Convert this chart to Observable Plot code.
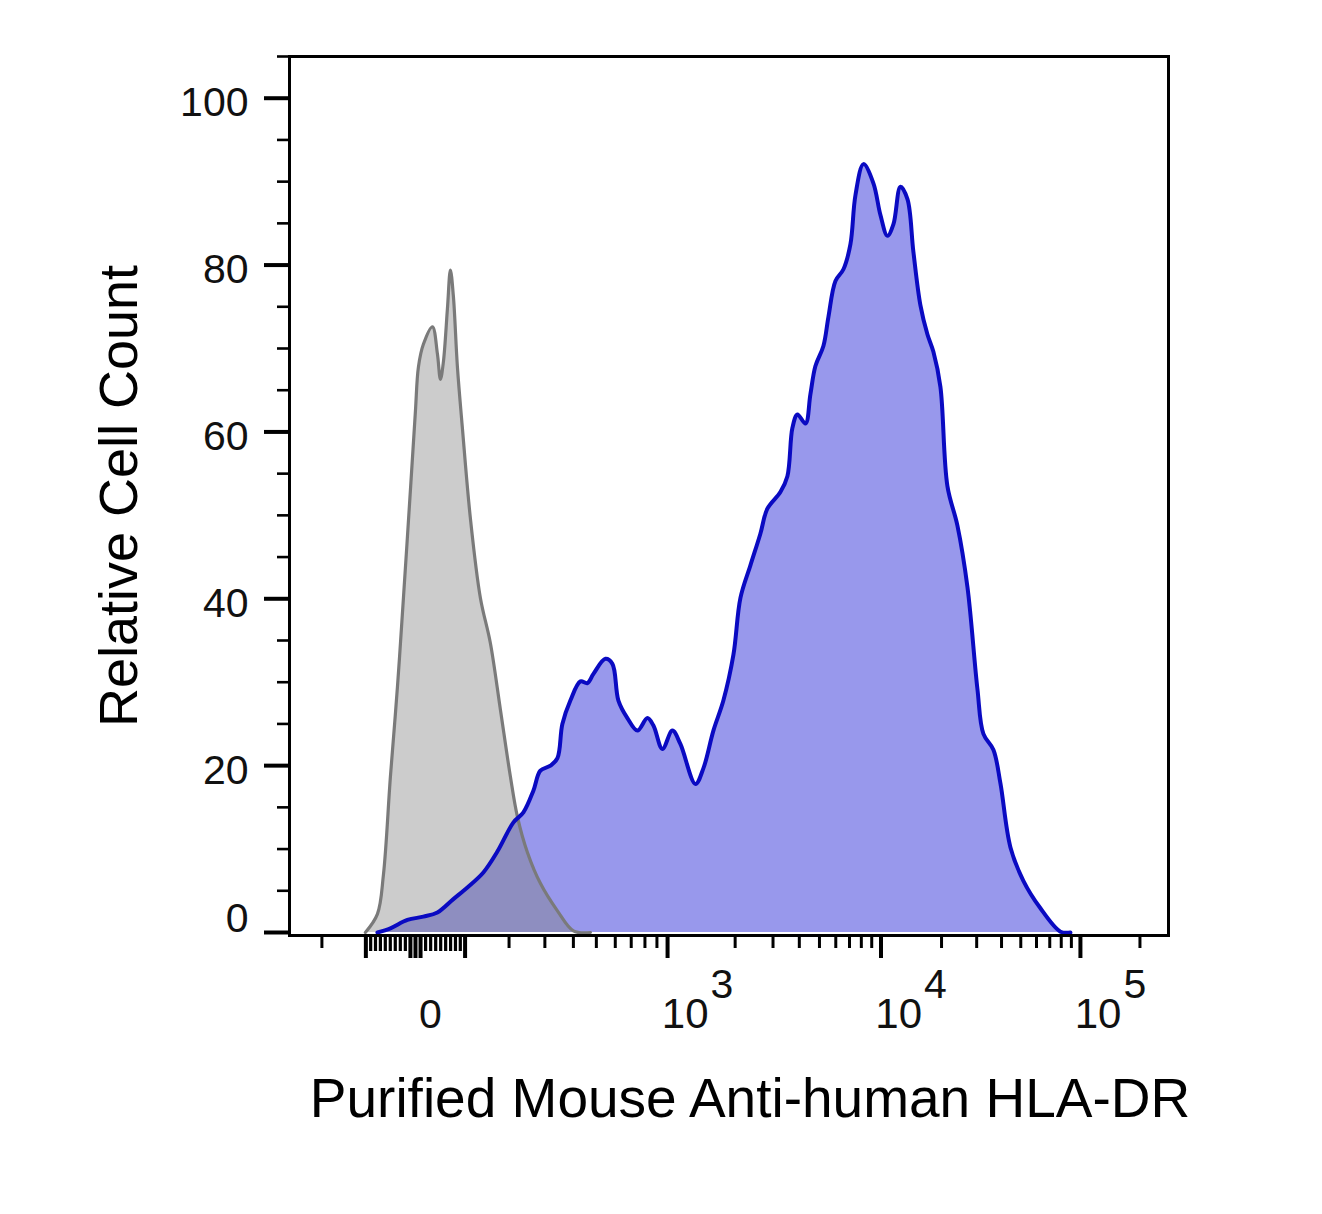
<!DOCTYPE html>
<html>
<head>
<meta charset="utf-8">
<script src="https://cdn.jsdelivr.net/npm/d3@7"></script>
<script src="https://cdn.jsdelivr.net/npm/@observablehq/plot@0.6"></script>
<style>
  html, body { margin: 0; padding: 0; background: #ffffff; }
</style>
</head>
<body>
<div id="chart"></div>
<script>
// ---- Data (x in logicle display channels, 200 channels per decade; y = relative cell count) ----
const blueChannel = [
  103.4, 116.6, 133.8, 150.0, 164.2, 180.4, 194.6, 210.8, 225.0, 241.3,
  251.4, 261.5, 268.6, 278.8, 285.9, 290.9, 299.0, 309.2, 316.3, 322.4,
  334.5, 341.6, 347.7, 356.8, 367.0, 377.1, 383.2, 392.3, 402.4, 410.5,
  425.8, 433.9, 444.0, 454.1, 464.3, 471.4, 481.5, 491.6, 498.7, 511.9,
  519.0, 524.1, 529.2, 537.3, 542.3, 547.4, 555.5, 560.6, 567.7, 575.8,
  582.9, 588.0, 596.1, 606.2, 613.3, 620.4, 626.5, 633.6, 640.7, 646.7,
  653.8, 660.9, 667.0, 674.1, 681.2, 691.3, 701.5, 711.6, 717.7, 727.8,
  734.9, 745.1, 758.2, 775.5, 795.8, 805.9
];
const blueCount = [
  0, 0.5, 1.5, 1.9, 2.4, 4.0, 5.4, 7.2, 9.7, 13.2,
  14.4, 17.0, 19.4, 20.0, 20.9, 25.0, 27.8, 30.1, 29.9, 31.0,
  32.8, 32.2, 27.8, 25.7, 24.2, 25.7, 24.8, 22.0, 24.2, 22.6,
  17.8, 19.7, 24.2, 27.8, 33.3, 40.1, 44.0, 47.8, 50.8, 52.8,
  54.7, 60.5, 62.1, 61.0, 64.5, 67.9, 70.3, 73.8, 78.1, 79.5,
  82.5, 88.4, 92.1, 89.8, 86.0, 83.5, 84.9, 89.4, 87.9, 81.6,
  75.2, 71.7, 69.6, 65.4, 53.5, 48.8, 41.4, 29.2, 23.8, 21.9,
  17.9, 10.2, 6.2, 2.9, 0.1, 0
];
const grayChannel = [
  91.2, 103.4, 109.5, 116.6, 123.7, 129.8, 136.8, 141.9, 145.0, 150.0,
  159.2, 164.2, 167.3, 170.3, 174.4, 177.4, 180.4, 184.5, 189.6, 197.7,
  207.8, 217.9, 228.1, 238.2, 245.3, 255.5, 268.6, 285.9, 302.1, 319.3
];
const grayCount = [
  0, 2.2, 6.9, 18.7, 29.4, 40.1, 52.9, 62.4, 67.8, 70.5,
  72.6, 69.4, 66.3, 68.4, 74.8, 79.4, 76.3, 67.8, 60.4, 49.6,
  40.1, 34.7, 26.7, 18.7, 13.9, 9.6, 5.9, 2.6, 0.2, 0
];

// ---- Axis ticks (fluorescence values) ----
const xMajorTicks = [-100, -10, 0, 10, 100, 1000, 10000, 100000];
const xMidTicks = [-90, -80, -70, -60, -50, -40, -30, -20, 20, 30, 40, 50, 60, 70, 80, 90];
const xMinorTicks = [
  -300, -200,
  200, 300, 400, 500, 600, 700, 800, 900,
  2000, 3000, 4000, 5000, 6000, 7000, 8000, 9000,
  20000, 30000, 40000, 50000, 60000, 70000, 80000, 90000,
  200000
];
const xLabelValues = [1000, 10000, 100000];
const xLabelBase = ["10", "10", "10"];
const xLabelExp = ["3", "4", "5"];
const xZeroLabel = "0";
const yMajorTicks = [0, 20, 40, 60, 80, 100];
const yMinorTicks = [5, 10, 15, 25, 30, 35, 45, 50, 55, 65, 70, 75, 85, 90, 95, 105];
const xTitle = "Purified Mouse Anti-human HLA-DR";
const yTitle = "Relative Cell Count";

// ---- Logicle (biexponential) display transform ----
const T = 262144, M = 4.5, W = 0.71, CH_PER_DECADE = 200;
function solveP(w) {
  let lo = 1.000001, hi = 100;
  for (let i = 0; i < 200; i++) {
    const mid = (lo + hi) / 2;
    const f = 2 * mid * Math.log10(mid) / (mid + 1);
    if (f < w) lo = mid; else hi = mid;
  }
  return (lo + hi) / 2;
}
const P = solveP(W);
const PRE = T * Math.pow(10, -(M - W));
function logicleInverse(d) {
  const u = d - W, s = u >= 0 ? 1 : -1, a = Math.abs(u);
  return s * PRE * (Math.pow(10, a) - P * P * Math.pow(10, -a / P) + P * P - 1);
}
function toChannel(v) {
  let lo = -3, hi = M + 3;
  for (let i = 0; i < 200; i++) {
    const mid = (lo + hi) / 2;
    if (logicleInverse(mid) < v) lo = mid; else hi = mid;
  }
  return CH_PER_DECADE * (lo + hi) / 2;
}

const blue = blueChannel.map((c, i) => ({c, n: blueCount[i]}));
const gray = grayChannel.map((c, i) => ({c, n: grayCount[i]}));
const xDomain = [14.3, 905.3];
const inX = v => { const c = toChannel(v); return c >= xDomain[0] && c <= xDomain[1]; };

const font = "'Liberation Sans', Arial, Helvetica, sans-serif";
const curve = "catmull-rom";

const chart = Plot.plot({
  width: 1322,
  height: 1214,
  marginLeft: 289,
  marginRight: 154,
  marginTop: 56,
  marginBottom: 279,
  style: {fontFamily: font, background: "#ffffff", color: "#000000"},
  x: {type: "linear", domain: xDomain},
  y: {domain: [-0.36, 105]},
  marks: [
    Plot.areaY(blue, {x: "c", y: "n", fill: "#9898ec", curve}),
    Plot.areaY(gray, {x: "c", y: "n", fill: "#808080", fillOpacity: 0.4, curve}),
    Plot.lineY(gray, {x: "c", y: "n", stroke: "#7a7a7a", strokeWidth: 3.2, curve}),
    Plot.lineY(blue, {x: "c", y: "n", stroke: "#0a0ac2", strokeWidth: 4, curve}),
    Plot.frame({stroke: "#000000", strokeWidth: 3}),
    // x ticks
    Plot.axisX(xMinorTicks.filter(inX).map(toChannel), {anchor: "bottom", tickSize: 13, strokeWidth: 3, tickFormat: () => "", label: null}),
    Plot.axisX(xMidTicks.filter(inX).map(toChannel), {anchor: "bottom", tickSize: 16, strokeWidth: 3.2, tickFormat: () => "", label: null}),
    Plot.axisX(xMajorTicks.filter(inX).map(toChannel), {anchor: "bottom", tickSize: 23, strokeWidth: 4, tickFormat: () => "", label: null}),
    // y ticks
    Plot.axisY(yMinorTicks, {anchor: "left", tickSize: 12, strokeWidth: 2.6, tickFormat: () => "", label: null}),
    Plot.axisY(yMajorTicks, {anchor: "left", tickSize: 25, strokeWidth: 4, tickFormat: () => "", label: null}),
    // y tick labels
    Plot.text(yMajorTicks.filter(v => v > 0), {y: d => d, text: d => String(d), frameAnchor: "left", textAnchor: "end", dx: -41, dy: 5, fontSize: 41, fill: "#111"}),
    Plot.text([0], {y: d => d, text: d => String(d), frameAnchor: "left", textAnchor: "end", dx: -41, dy: -14, fontSize: 41, fill: "#111"}),
    // x tick labels
    Plot.text([0], {x: d => toChannel(d), text: () => xZeroLabel, frameAnchor: "bottom", lineAnchor: "bottom", textAnchor: "middle", dx: 15, dy: 92, fontSize: 41, fill: "#111"}),
    Plot.text(xLabelValues, {x: d => toChannel(d), text: (d, i) => xLabelBase[i], frameAnchor: "bottom", lineAnchor: "bottom", textAnchor: "end", dx: 41, dy: 92, fontSize: 42, fill: "#111"}),
    Plot.text(xLabelValues, {x: d => toChannel(d), text: (d, i) => xLabelExp[i], frameAnchor: "bottom", lineAnchor: "bottom", textAnchor: "start", dx: 43, dy: 62, fontSize: 41, fill: "#111"}),
    // axis titles
    Plot.text([yTitle], {text: d => d, frameAnchor: "left", rotate: -90, dx: -153, lineAnchor: "bottom", textAnchor: "middle", fontSize: 54, fill: "#000"}),
    Plot.text([xTitle], {text: d => d, frameAnchor: "bottom", dx: 21, dy: 181, lineAnchor: "bottom", textAnchor: "middle", fontSize: 55, fill: "#000"})
  ]
});
document.getElementById("chart").appendChild(chart);
</script>
</body>
</html>
